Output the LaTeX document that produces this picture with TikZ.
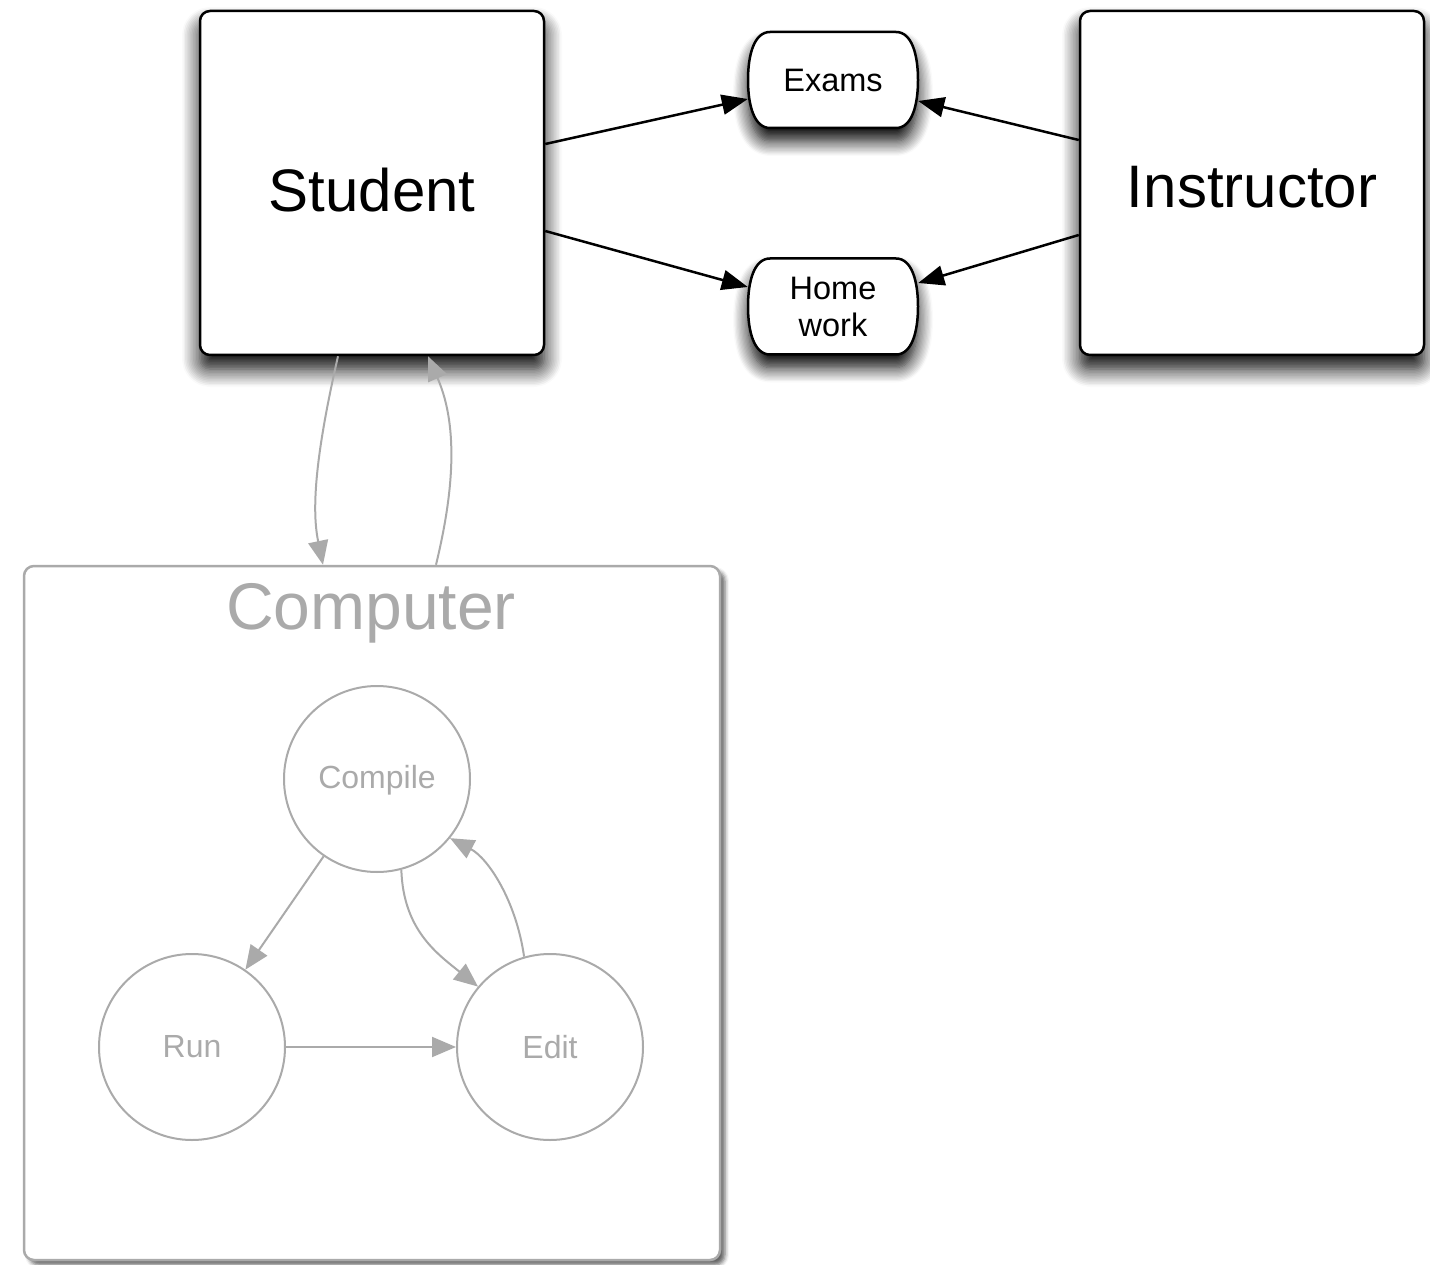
\documentclass[tikz,border=0pt]{standalone}
\usepackage{fontspec}
\setmainfont{Liberation Sans}
\usetikzlibrary{arrows.meta,shadows.blur}
\definecolor{lgray}{HTML}{AAAAAA}
\tikzset{
  bigbox/.style={draw=black, line width=2.5pt, fill=white, rounded corners=10pt,
    minimum width=344pt, minimum height=344pt, inner sep=0pt,
    font=\fontsize{60}{72}\selectfont,
    blur shadow={shadow xshift=0pt, shadow yshift=-14pt, shadow blur radius=18pt, shadow blur steps=12, shadow opacity=100}},
  pill/.style={minimum width=170pt, minimum height=96pt, inner sep=0pt, align=center,
    font=\fontsize{32.5}{37}\selectfont},
  pillline/.style={draw=black, line width=2.5pt, fill=white,
    blur shadow={shadow xshift=0pt, shadow yshift=-13pt, shadow blur radius=15pt, shadow blur steps=12, shadow opacity=100}},
  blackarrow/.style={draw=black, line width=2.5pt, -{Triangle[length=26pt,width=20pt]}},
  grayarrow/.style={draw=lgray, line width=2pt, -{Triangle[length=24pt,width=20pt]}},
  circ/.style={circle, draw=lgray, line width=2pt, minimum size=186pt, inner sep=0pt,
    text=lgray, font=\fontsize{32}{38}\selectfont},
  compbox/.style={draw=lgray, line width=2.5pt, rounded corners=10pt, fill=white,
    minimum width=696pt, minimum height=694pt,
    blur shadow={shadow xshift=5pt, shadow yshift=-5pt, shadow blur radius=4pt, shadow opacity=60}},
}
% outline of a pill-shaped box centred on coordinate #1 (half width 85, half height 48)
\newcommand\pilloutline[1]{%
  \draw[pillline] ([shift={(-63,-48)}]#1) -- ([shift={(63,-48)}]#1)
  .. controls ([shift={(79,-48)}]#1) and ([shift={(85,-25)}]#1) .. ([shift={(85,0)}]#1)
  .. controls ([shift={(85,25)}]#1) and ([shift={(79,48)}]#1) .. ([shift={(63,48)}]#1)
  -- ([shift={(-63,48)}]#1)
  .. controls ([shift={(-79,48)}]#1) and ([shift={(-85,25)}]#1) .. ([shift={(-85,0)}]#1)
  .. controls ([shift={(-85,-25)}]#1) and ([shift={(-79,-48)}]#1) .. cycle;}
\begin{document}
\begin{tikzpicture}[x=1pt, y=-1pt]
\useasboundingbox (0,0) rectangle (1430,1265);

% top row
\node[bigbox, text height=58pt] (student) at (372,183) {Student};
\node[bigbox, text height=50pt] (instructor) at (1252,183) {Instructor};
\coordinate (examsc) at (833,80);
\coordinate (homeworkc) at (833,306.5);
\pilloutline{examsc}
\pilloutline{homeworkc}
\node[pill] (exams) at (examsc) {Exams};
\node[pill] (homework) at (homeworkc) {Home\\work};

\draw[blackarrow] ([yshift=39pt]student.east) -- ([yshift=-19pt]exams.west);
\draw[blackarrow] ([yshift=-48pt]student.east) -- ([yshift=19.5pt]homework.west);
\draw[blackarrow] ([yshift=43pt]instructor.west) -- ([yshift=-21pt]exams.east);
\draw[blackarrow] ([yshift=-52pt]instructor.west) -- ([yshift=23.5pt]homework.east);

% computer
\node[compbox] (computer) at (372,913) {};
\node[text=lgray, font=\fontsize{66}{80}\selectfont, anchor=base, inner sep=0pt] (comptitle) at (371,629) {Computer};

\draw[grayarrow] ([xshift=-34pt]student.south) .. controls +(-24,105) and +(-11,-53) .. ([xshift=-49pt]computer.north);
\draw[grayarrow] ([xshift=64pt]computer.north) .. controls +(16,-66) and +(32,73) .. ([xshift=56pt]student.south);

\node[circ, text height=25pt] (compile) at (377,779) {Compile};
\node[circ] (run) at (192,1047) {Run};
\node[circ] (edit) at (550,1047) {Edit};

\draw[grayarrow] (compile) -- (run);
\draw[grayarrow] (run) -- (edit);
\draw[grayarrow] (compile.-75) .. controls +(2,60) and +(-41,-33) .. (edit.140);
\draw[grayarrow] (edit.106) .. controls +(-8,-56) and +(38,20) .. (compile.-39);
\end{tikzpicture}
\end{document}
